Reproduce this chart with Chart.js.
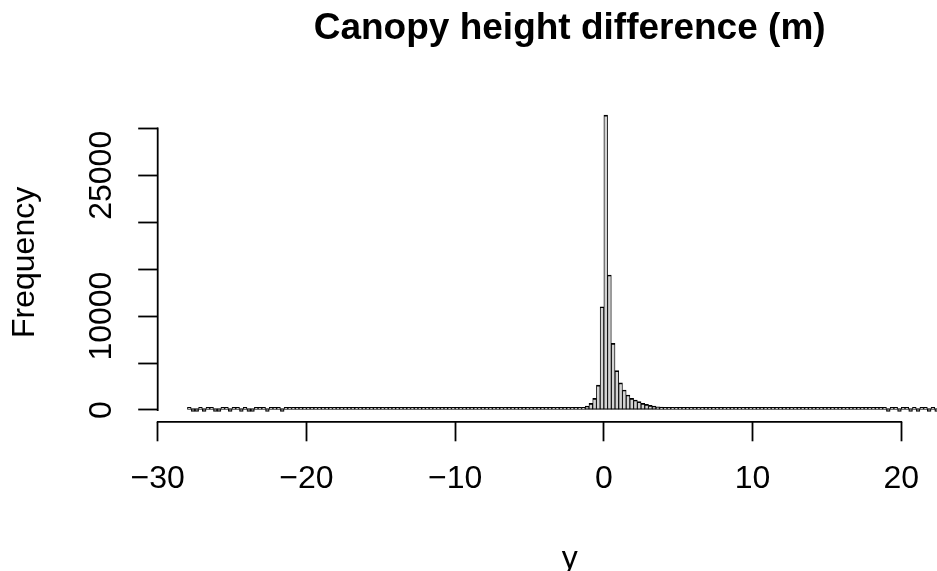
<!DOCTYPE html>
<html><head><meta charset="utf-8">
<script src="https://cdn.jsdelivr.net/npm/chart.js@4.4.1/dist/chart.umd.min.js"></script>
<style>html,body{margin:0;padding:0;background:#fff;overflow:hidden}</style>
</head><body>
<canvas id="c" width="937" height="571"></canvas>
<script>
// ---- data (histogram of canopy height difference, bins of 0.25 m starting at -28) ----
const binStart = -28;
const binWidth = 0.25;
const counts = [
  // -28.00 .. -21.75
  1,0,0,1,0,2,1,0,0,1,1,0,2,1,0,1,0,0,2,1,1,0,1,2,1,0,
  // -21.50 .. -15.25
  2,3,2,3,4,2,3,3,4,2,3,4,3,5,4,3,4,5,4,5,6,4,5,5,6,5,
  // -15.00 .. -10.25
  6,7,6,8,7,8,9,8,10,9,11,10,12,11,13,12,14,15,14,16,
  // -10.00 .. -5.25
  16,17,17,18,19,20,21,22,23,24,25,27,28,30,31,33,35,37,39,42,
  // -5.00 .. -2.25
  45,48,52,56,60,65,70,76,83,92,105,125,
  // -2.00 .. 3.50
  150,200,290,430,710,1250,2660,11000,31400,14380,7100,4190,2900,2130,1600,1250,1065,890,710,600,500,430,350,
  // 3.75 .. 7.00
  300,260,225,195,170,150,132,117,104,93,84,76,69,63,
  // 7.25 .. 8.75
  58,54,50,47,44,41,38,
  // 9.00 .. 10.75
  36,34,32,30,28,26,25,24,
  // 11.00 .. 13.75
  23,22,21,20,19,18,17,16,15,15,14,13,
  // 14.00 .. 16.75
  12,12,11,10,10,9,9,8,8,7,7,6,
  // 17.00 .. 18.25
  6,5,5,4,4,3,
  // 18.50 .. 22.25
  2,1,0,2,1,0,1,1,0,2,0,1,1,0,1,0
];
const xTicks = [-30, -20, -10, 0, 10, 20];
const yTicks = [0, 5000, 10000, 15000, 20000, 25000, 30000];
const yTickLabelsShown = [0, 10000, 25000];
const mainTitle = 'Canopy height difference (m)';
const xTitle = 'y';
const yTitle = 'Frequency';

// ---- build ----
const centers = counts.map((_, i) => binStart + binWidth * (i + 0.5));
const points = counts.map((c, i) => ({x: centers[i], y: c}));

const FONT = '"Liberation Sans", Arial, Helvetica, sans-serif';
const FS = 32;
const TITLE_FS = 37;
const PLOT_LEFT = 157.7, PLOT_TOP = 103, PLOT_BOTTOM = 421.8;
const X_MIN = -30, X_MAX = 22.4, Y_MIN = -1257, Y_MAX = 32700;
const TICK_LEN = 19.5;
const AXIS_LW = 1.8;

const rAxes = {
  id: 'rAxes',
  afterDraw(chart) {
    const ctx = chart.ctx;
    const xs = chart.scales.x, ys = chart.scales.y;
    const ca = chart.chartArea;
    ctx.save();
    ctx.strokeStyle = '#000';
    ctx.lineWidth = AXIS_LW;
    ctx.lineCap = 'square';
    ctx.beginPath();
    ctx.moveTo(xs.getPixelForValue(xTicks[0]), ca.bottom);
    ctx.lineTo(xs.getPixelForValue(xTicks[xTicks.length - 1]), ca.bottom);
    ctx.stroke();
    ctx.beginPath();
    ctx.moveTo(ca.left, ys.getPixelForValue(yTicks[0]));
    ctx.lineTo(ca.left, ys.getPixelForValue(yTicks[yTicks.length - 1]));
    ctx.stroke();

    ctx.fillStyle = '#000';
    ctx.font = FS + 'px ' + FONT;
    ctx.textAlign = 'center';
    ctx.textBaseline = 'alphabetic';
    yTickLabelsShown.forEach(v => {
      const py = ys.getPixelForValue(v);
      ctx.save();
      ctx.translate(ca.left - 47, py);
      ctx.rotate(-Math.PI / 2);
      ctx.fillText(String(v), 0, 0);
      ctx.restore();
    });
    ctx.save();
    ctx.translate(ca.left - 124, (ca.top + ca.bottom) / 2);
    ctx.rotate(-Math.PI / 2);
    ctx.fillText(yTitle, 0, 0);
    ctx.restore();
    const cx = xs.getPixelForValue(-2.3);
    ctx.fillText(xTitle, cx, ca.bottom + 146);
    ctx.font = 'bold ' + TITLE_FS + 'px ' + FONT;
    ctx.fillText(mainTitle, cx, 39);
    ctx.restore();
  }
};

Chart.defaults.color = '#000';
Chart.defaults.font.family = FONT;

new Chart(document.getElementById('c'), {
  type: 'bar',
  data: {
    datasets: [{
      data: points,
      backgroundColor: '#d3d3d3',
      borderColor: '#000',
      borderWidth: {top: 1.7, left: 0.9, right: 0.9, bottom: 1.3},
      borderSkipped: false,
      barPercentage: 1.0,
      categoryPercentage: 1.0,
      minBarLength: 2.6
    }]
  },
  options: {
    responsive: false,
    animation: false,
    events: [],
    layout: {padding: {top: PLOT_TOP, left: 0, right: 0, bottom: 0}},
    plugins: {legend: {display: false}, tooltip: {enabled: false}, title: {display: false}},
    scales: {
      x: {
        type: 'linear',
        min: X_MIN, max: X_MAX,
        offset: false,
        afterBuildTicks: s => { s.ticks = xTicks.map(v => ({value: v})); },
        afterFit: s => { s.height = 571 - PLOT_BOTTOM; s.paddingLeft = 0; s.paddingRight = 0; },
        grid: {drawOnChartArea: false, drawTicks: true, tickLength: TICK_LEN, tickWidth: AXIS_LW, tickColor: '#000', offset: false},
        border: {display: false},
        ticks: {
          autoSkip: false, maxRotation: 0, minRotation: 0, padding: 19,
          font: {size: FS, family: FONT}, color: '#000',
          callback: v => String(v).replace('-', '\u2212')
        }
      },
      y: {
        type: 'linear',
        min: Y_MIN, max: Y_MAX,
        afterBuildTicks: s => { s.ticks = yTicks.map(v => ({value: v})); },
        afterFit: s => { s.width = PLOT_LEFT; s.paddingTop = 0; s.paddingBottom = 0; },
        grid: {drawOnChartArea: false, drawTicks: true, tickLength: TICK_LEN, tickWidth: AXIS_LW, tickColor: '#000'},
        border: {display: false},
        ticks: {display: false}
      }
    }
  },
  plugins: [rAxes]
});
</script>
</body></html>
